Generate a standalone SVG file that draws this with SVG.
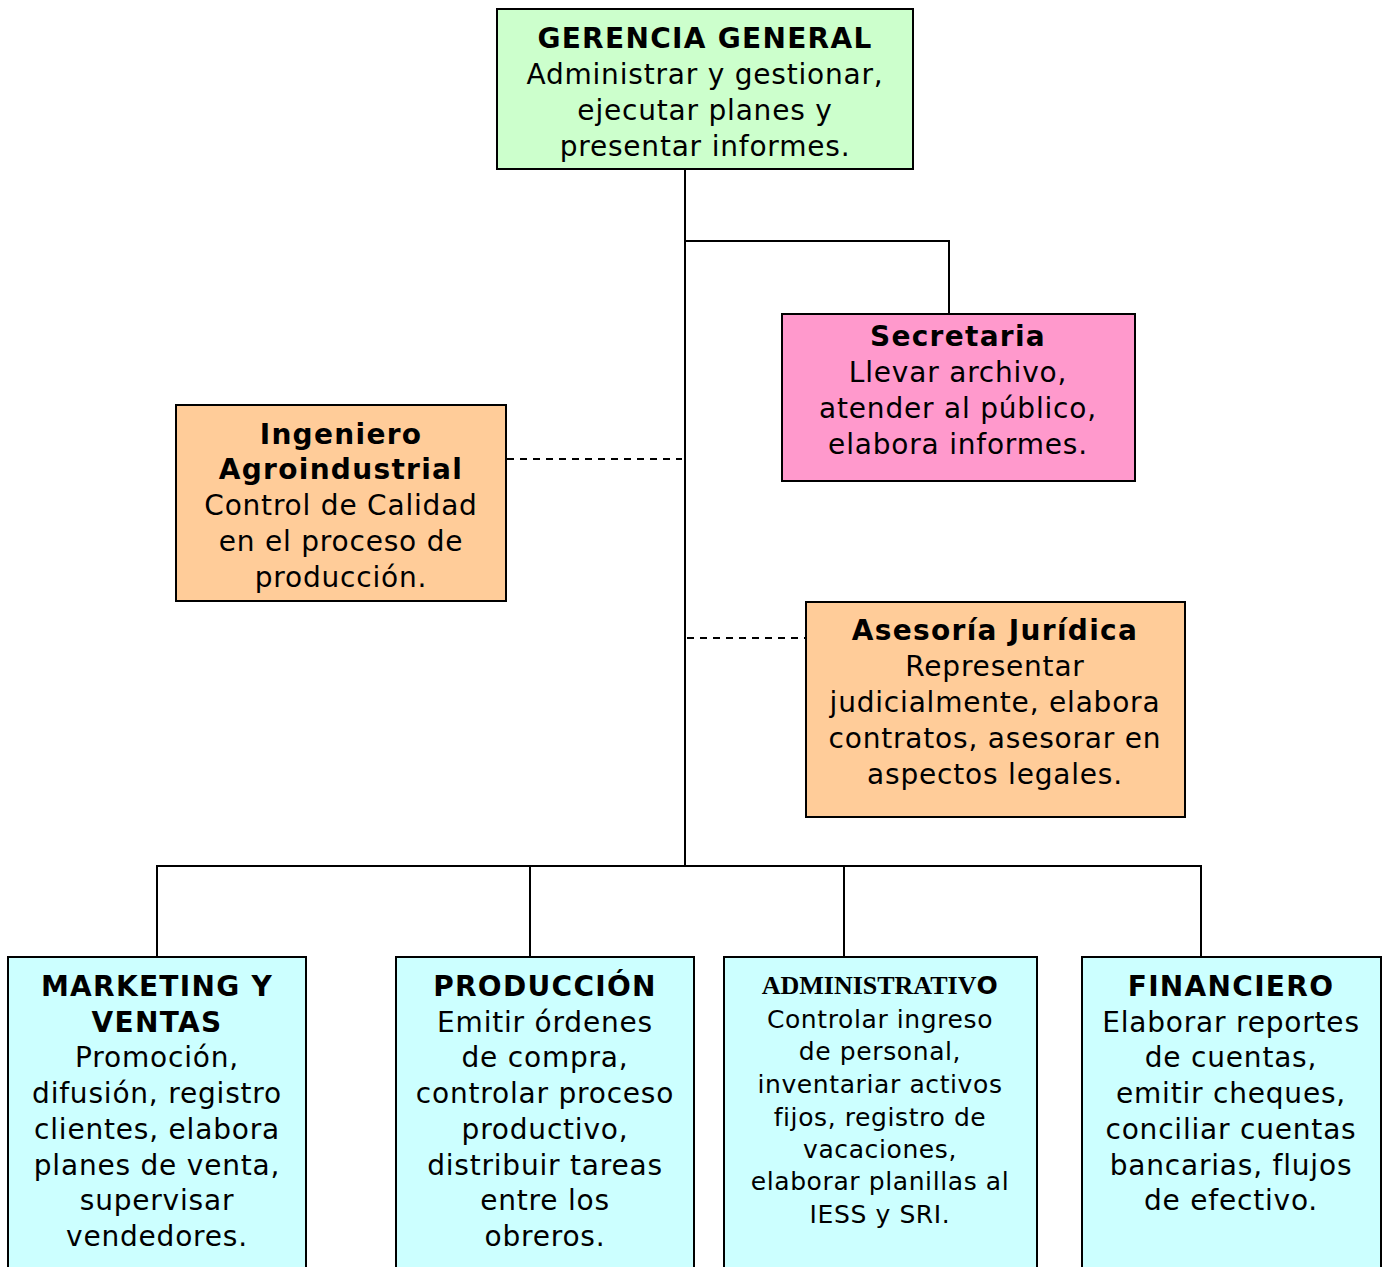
<svg xmlns="http://www.w3.org/2000/svg" width="1389" height="1267" viewBox="0 0 1389 1267">
<style>
.box{stroke:#000;stroke-width:2}
.g{fill:#CCFFCC}.p{fill:#FF99CC}.o{fill:#FFCC99}.c{fill:#CCFFFF}
text{font-family:"DejaVu Sans",Verdana,sans-serif;font-size:28px;letter-spacing:0.8px;text-anchor:middle;fill:#000}
.b{font-weight:bold;letter-spacing:1.3px}
.sm{font-size:25px;letter-spacing:0.6px}
.serif{font-family:"Liberation Serif","Times New Roman",serif;font-weight:bold;font-size:26px;letter-spacing:0}
.ln{stroke:#000;stroke-width:2;fill:none}
.d{stroke-dasharray:7,6}
</style>
<rect width="1389" height="1267" fill="#fff"/>
<g id="connectors">
<path class="ln" d="M685,169 V865"/>
<path class="ln" d="M685,241 H949 V314"/>
<path class="ln d" d="M507,459 H682"/>
<path class="ln d" d="M687,638 H806"/>
<path class="ln" d="M157,957 V866 H1201 V957"/>
<path class="ln" d="M530,866 V957"/>
<path class="ln" d="M844,866 V957"/>
</g>
<g id="gerencia">
<rect class="box g" x="497" y="9" width="416" height="160"/>
<text x="705" y="48" class="b">GERENCIA GENERAL</text>
<text x="705" y="84">Administrar y gestionar,</text>
<text x="705" y="120">ejecutar planes y</text>
<text x="705" y="156">presentar informes.</text>
</g>
<g id="secretaria">
<rect class="box p" x="782" y="314" width="353" height="167"/>
<text x="958" y="346" class="b">Secretaria</text>
<text x="958" y="382">Llevar archivo,</text>
<text x="958" y="418">atender al público,</text>
<text x="958" y="454">elabora informes.</text>
</g>
<g id="ingeniero">
<rect class="box o" x="176" y="405" width="330" height="196"/>
<text x="341" y="444" class="b">Ingeniero</text>
<text x="341" y="479" class="b">Agroindustrial</text>
<text x="341" y="515">Control de Calidad</text>
<text x="341" y="551">en el proceso de</text>
<text x="341" y="587">producción.</text>
</g>
<g id="asesoria">
<rect class="box o" x="806" y="602" width="379" height="215"/>
<text x="995" y="640" class="b">Asesoría Jurídica</text>
<text x="995" y="676">Representar</text>
<text x="995" y="712">judicialmente, elabora</text>
<text x="995" y="748">contratos, asesorar en</text>
<text x="995" y="784">aspectos legales.</text>
</g>
<g id="marketing">
<rect class="box c" x="8" y="957" width="298" height="320"/>
<text x="157" y="996" class="b">MARKETING Y</text>
<text x="157" y="1032" class="b">VENTAS</text>
<text x="157" y="1067">Promoción,</text>
<text x="157" y="1103">difusión, registro</text>
<text x="157" y="1139">clientes, elabora</text>
<text x="157" y="1175">planes de venta,</text>
<text x="157" y="1210">supervisar</text>
<text x="157" y="1246">vendedores.</text>
</g>
<g id="produccion">
<rect class="box c" x="396" y="957" width="298" height="320"/>
<text x="545" y="996" class="b">PRODUCCIÓN</text>
<text x="545" y="1032">Emitir órdenes</text>
<text x="545" y="1067">de compra,</text>
<text x="545" y="1103">controlar proceso</text>
<text x="545" y="1139">productivo,</text>
<text x="545" y="1175">distribuir tareas</text>
<text x="545" y="1210">entre los</text>
<text x="545" y="1246">obreros.</text>
</g>
<g id="administrativo">
<rect class="box c" x="724" y="957" width="313" height="320"/>
<text x="880" y="994"><tspan class="serif">ADMINISTRATIV</tspan><tspan class="b sm">O</tspan></text>
<text x="880" y="1028" class="sm">Controlar ingreso</text>
<text x="880" y="1060" class="sm">de personal,</text>
<text x="880" y="1093" class="sm">inventariar activos</text>
<text x="880" y="1126" class="sm">fijos, registro de</text>
<text x="880" y="1158" class="sm">vacaciones,</text>
<text x="880" y="1190" class="sm">elaborar planillas al</text>
<text x="880" y="1223" class="sm">IESS y SRI.</text>
</g>
<g id="financiero">
<rect class="box c" x="1082" y="957" width="299" height="320"/>
<text x="1231" y="996" class="b">FINANCIERO</text>
<text x="1231" y="1032">Elaborar reportes</text>
<text x="1231" y="1067">de cuentas,</text>
<text x="1231" y="1103">emitir cheques,</text>
<text x="1231" y="1139">conciliar cuentas</text>
<text x="1231" y="1175">bancarias, flujos</text>
<text x="1231" y="1210">de efectivo.</text>
</g>
</svg>
